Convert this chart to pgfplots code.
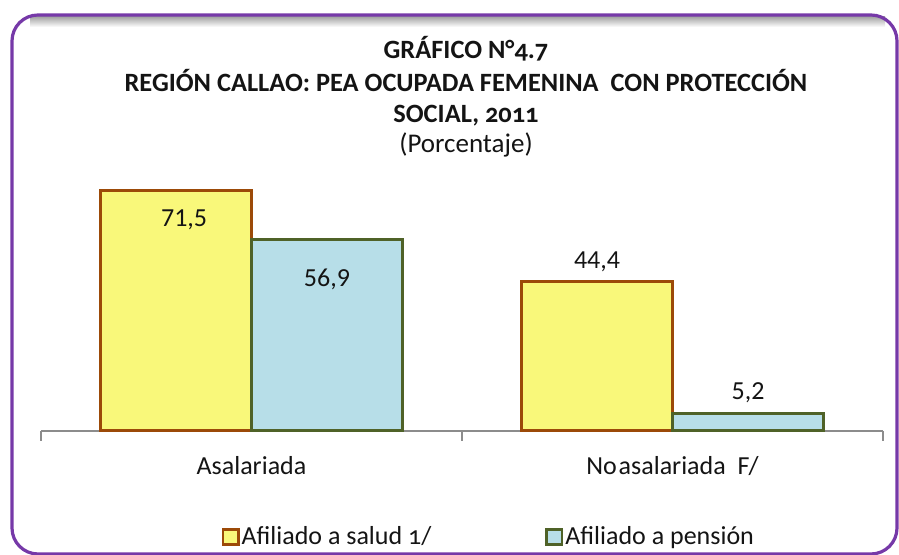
\documentclass[border=0pt]{standalone}
\usepackage{pgfplots}
\pgfplotsset{compat=1.18}
\usepackage{fontspec}
\setmainfont{Carlito}[Numbers=OldStyle]
\newfontfamily\lining{Carlito}[Numbers=Lining]
\definecolor{frame}{RGB}{118,57,168}
\definecolor{ybfill}{RGB}{249,248,122}
\definecolor{ybdraw}{RGB}{156,74,8}
\definecolor{blfill}{RGB}{183,222,232}
\definecolor{bldraw}{RGB}{79,98,40}
\definecolor{axgray}{RGB}{140,140,140}
\definecolor{txt}{RGB}{20,20,20}
\begin{document}
\begin{tikzpicture}[x=0.5pt,y=0.5pt]
\clip (0,0) rectangle (899,555);
\shade[top color=black!35, bottom color=white] (30,555-17) rectangle (885,555-27);
\draw[frame, line width=1.6pt, rounded corners=13pt] (12,555-15) rectangle (897,555-554);
% title
\begin{scope}[every node/.style={text=txt, inner sep=0pt}]
\node[anchor=base, font=\fontsize{13.2}{15}\selectfont\bfseries] at (466,555-59) {GRÁFICO N°4.7};
\node[anchor=base, font=\fontsize{13.2}{15}\selectfont\bfseries] at (466,555-92) {REGIÓN CALLAO:\ PEA OCUPADA FEMENINA\ \ CON PROTECCIÓN};
\node[anchor=base, font=\fontsize{13.2}{15}\selectfont\bfseries] at (466,555-123) {SOCIAL, 2011};
\node[anchor=base, font=\fontsize{13.5}{15}\selectfont] at (466,555-153) {(Porcentaje)};
\end{scope}
\begin{axis}[
  at={(20.5pt,62pt)}, anchor=south west,
  scale only axis, width=421pt, height=134.3pt,
  xmin=-0.5, xmax=1.5, ymin=0, ymax=80,
  axis x line*=bottom, axis y line=none,
  x axis line style={axgray, line width=0.75pt},
  xtick={0,1},
  xticklabels={Asalariada, No\hspace{1pt}asalariada\ \ F/},
  xtick style={draw=none},
  major tick length=0pt,
  xticklabel style={font=\fontsize{13}{15}\selectfont, text=txt, anchor=center, yshift=-17.5pt, inner sep=0pt},
  extra x ticks={-0.5,0.5,1.5},
  extra x tick labels={},
  extra x tick style={tick align=outside, major tick length=5pt, xtick style={draw=axgray, line width=0.6pt}},
  clip=false,
  legend columns=2,
  legend cell align=left,
  legend style={at={(0.533,-0.395)}, anchor=center, draw=none, fill=none,
    font=\fontsize{13}{15}\selectfont, text=txt,
    /tikz/every odd column/.append style={column sep=-1pt},
    /tikz/every even column/.append style={column sep=55pt}},
  legend image code/.code={\draw[#1, line width=1.4pt] (0pt,-3.9pt) rectangle (7.6pt,3.9pt);},
]
\addplot[ybar, bar width=0.3586, bar shift=-0.1793, fill=ybfill, draw=ybdraw, line width=1.5pt] coordinates {(0,71.5) (1,44.4)};
\addlegendentry{Afiliado a salud 1/}
\addplot[ybar, bar width=0.3586, bar shift=0.1793, fill=blfill, draw=bldraw, line width=1.5pt] coordinates {(0,56.9) (1,5.2)};
\addlegendentry{Afiliado a pensión}
\node[font=\lining\fontsize{13}{15}\selectfont, text=txt] at (axis cs:-0.16,62.9) {71,5};
\node[font=\lining\fontsize{13}{15}\selectfont, text=txt] at (axis cs:0.1793,45.3) {56,9};
\node[font=\lining\fontsize{13}{15}\selectfont, text=txt] at (axis cs:0.8207,50.3) {44,4};
\node[font=\lining\fontsize{13}{15}\selectfont, text=txt] at (axis cs:1.1793,11.3) {5,2};
\end{axis}
\end{tikzpicture}
\end{document}
